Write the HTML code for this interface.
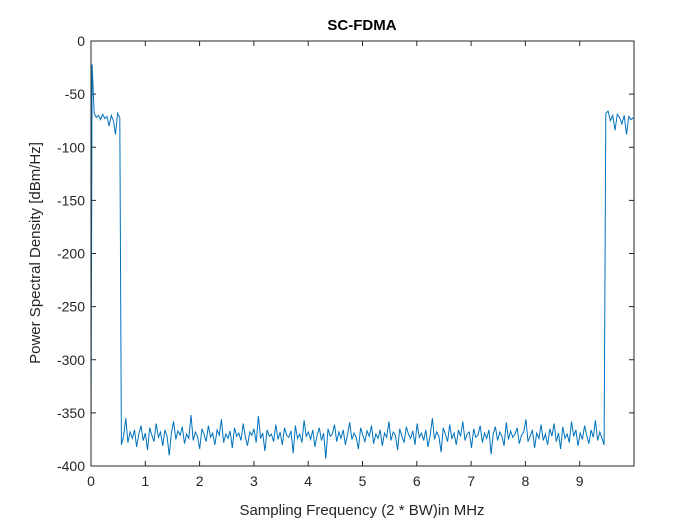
<!DOCTYPE html>
<html><head><meta charset="utf-8"><style>
body{margin:0;background:#fff;}
svg{display:block;font-family:"Liberation Sans",Arial,sans-serif;}
</style></head><body>
<svg id="chart" width="700" height="525" viewBox="0 0 700 525">
<rect width="700" height="525" fill="#fff"/>
<g id="grid"></g>
<polyline id="series" fill="none" stroke="#0072BD" stroke-width="1"/>
<rect x="91" y="41" width="543" height="425" fill="none" stroke="#262626" stroke-width="1"/>
<text x="362" y="30" text-anchor="middle" font-size="15" font-weight="bold" fill="#000">SC-FDMA</text>
<text x="362" y="515" text-anchor="middle" font-size="15" fill="#262626">Sampling Frequency (2 * BW)in MHz</text>
<text transform="translate(40,253) rotate(-90)" text-anchor="middle" font-size="15" fill="#262626">Power Spectral Density [dBm/Hz]</text>
</svg>
<script>
const xTicks=[0,1,2,3,4,5,6,7,8,9];
const yTicks=[0,-50,-100,-150,-200,-250,-300,-350,-400];
const leftStart=0.02, leftEnd=0.53;
const floorStart=0.56, floorEnd=9.45;
const rightStart=9.48, rightEnd=9.99;
const psdLeft=[-22,-68,-72,-70,-74,-69,-73,-71,-80,-70,-75,-88,-68,-72];
const psdFloor=[-380,-372,-355,-378,-368,-374,-366,-382,-370,-362,-376,-369,-385,-364,-371,-377,-360,-373,-368,-381,
-366,-372,-390,-369,-358,-375,-367,-371,-363,-379,-370,-374,-352,-376,-368,-372,-384,-365,-370,-377,
-362,-373,-369,-380,-366,-371,-356,-378,-370,-374,-367,-383,-364,-372,-369,-376,-360,-373,-381,-368,
-371,-365,-378,-353,-374,-369,-386,-366,-372,-370,-377,-361,-375,-368,-380,-364,-371,-373,-367,-388,
-362,-374,-370,-378,-357,-372,-368,-375,-366,-382,-371,-364,-376,-369,-393,-365,-372,-370,-361,-377,
-368,-374,-366,-380,-370,-359,-375,-369,-373,-384,-364,-371,-377,-367,-372,-362,-379,-370,-374,-366,
-381,-369,-373,-358,-376,-368,-371,-385,-365,-372,-378,-363,-370,-374,-367,-380,-360,-373,-369,-376,
-366,-382,-371,-355,-375,-368,-372,-387,-364,-370,-377,-361,-374,-369,-380,-366,-372,-358,-376,-370,
-368,-383,-365,-373,-371,-362,-378,-369,-374,-366,-389,-370,-363,-376,-368,-372,-381,-359,-375,-367,
-373,-370,-364,-379,-371,-368,-356,-377,-372,-366,-383,-369,-374,-361,-376,-370,-380,-365,-372,-360,
-377,-369,-384,-363,-374,-370,-378,-358,-372,-366,-381,-369,-375,-362,-371,-379,-366,-373,-357,-376,
-368,-374,-380];
const psdRight=[-68,-66,-75,-70,-84,-69,-72,-78,-70,-88,-71,-74,-72];
const X0=91,X1=634,Y0=41,Y1=466;
const xScale=v=>X0+(v-0)/(10-0)*(X1-X0);
const yScale=v=>Y0+(0-v)/(0-(-400))*(Y1-Y0);
const NS="http://www.w3.org/2000/svg";
const g=document.getElementById('grid');
function mk(t,a){const e=document.createElementNS(NS,t);for(const k in a)e.setAttribute(k,a[k]);return e;}
xTicks.forEach(t=>{
  const x=xScale(t);
  const l1=mk('line',{x1:x,x2:x,y1:Y1,y2:Y1-5,stroke:'#262626'});
  
  
  g.appendChild(l1);
  const l2=mk('line',{x1:x,x2:x,y1:Y0,y2:Y0+5,stroke:'#262626'});
  
  
  g.appendChild(l2);
  const tx=mk('text',{x:x,y:Y1+20,'text-anchor':'middle','font-size':14,fill:'#262626'});
  tx.textContent=t;
  
  
  g.appendChild(tx);
});
yTicks.forEach(t=>{
  const y=yScale(t);
  const l1=mk('line',{x1:X0,x2:X0+5,y1:y,y2:y,stroke:'#262626'});
  
  
  g.appendChild(l1);
  const l2=mk('line',{x1:X1,x2:X1-5,y1:y,y2:y,stroke:'#262626'});
  
  
  g.appendChild(l2);
  const tx=mk('text',{x:X0-6,y:y+5,'text-anchor':'end','font-size':14,fill:'#262626'});
  tx.textContent=t;
  
  
  g.appendChild(tx);
});
function seg(arr,a,b){return arr.map((v,i)=>[a+(b-a)*i/(arr.length-1),v]);}
const pairs=[[0,-375]].concat(seg(psdLeft,leftStart,leftEnd),seg(psdFloor,floorStart,floorEnd),seg(psdRight,rightStart,rightEnd));
const pts=pairs.map(p=>xScale(p[0]).toFixed(1)+','+yScale(p[1]).toFixed(1));
document.getElementById('series').setAttribute('points',pts.join(' '));
</script>
</body></html>
